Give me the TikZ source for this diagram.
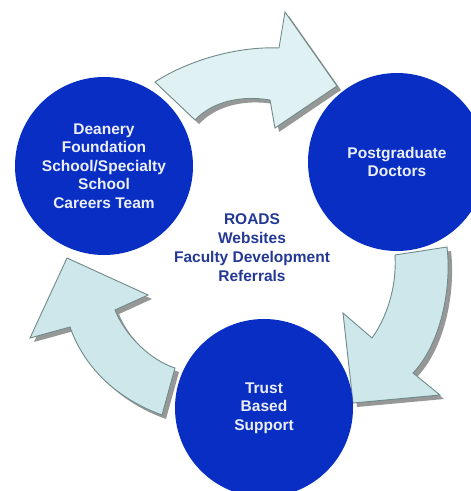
\documentclass[tikz,border=0pt]{standalone}
\usepackage{fontspec}
\setmainfont{Liberation Sans}
\begin{document}
\definecolor{discblue}{RGB}{8,46,196}
\definecolor{disctext}{RGB}{236,239,249}
\definecolor{hubtext}{RGB}{36,56,150}
\definecolor{arrowlight}{RGB}{224,241,243}
\definecolor{arrowfill}{RGB}{206,231,235}
\definecolor{arrowline}{RGB}{112,138,138}
\definecolor{arrowshadow}{RGB}{150,152,152}
\begin{tikzpicture}[x=1pt,y=-1pt,
  disc/.style={circle,fill=discblue,minimum size=178pt,inner sep=0pt,
    text=disctext,align=center,font=\bfseries\fontsize{15.5}{18.5}\selectfont},
  hub/.style={text=hubtext,align=center,font=\bfseries\fontsize{15.5}{19}\selectfont},
  blockarrow/.style={draw=arrowline,line width=0.9pt,line join=miter},
  arrowshade/.style={fill=arrowshadow,shift={(4,4)}}]
\useasboundingbox[fill=white] (0,0) rectangle (471,491);

% curved block arrows: shadow first, then the arrow itself
\def\toparrow{(155,82) .. controls (185,62) and (235,46) .. (279,48) -- (285,12) -- (337,86)
  -- (275,128) -- (270,100) .. controls (240,95) and (212,102) .. (195,120) -- cycle}
\def\rightarrow{(395,255) -- (447,247) .. controls (452,290) and (440,345) .. (413,373)
  -- (440,395) -- (353,403) -- (343,313) -- (372,338) .. controls (385,320) and (397,290) .. (395,255) -- cycle}
\def\leftarrowshape{(67,258) -- (148,295) -- (115,310) .. controls (125,335) and (150,360) .. (175,368)
  -- (162,415) .. controls (120,400) and (85,370) .. (70,327) -- (30,338) -- cycle}

\fill[arrowshade] \toparrow;
\fill[arrowshade] \rightarrow;
\fill[arrowshade] \leftarrowshape;
\filldraw[blockarrow,fill=arrowlight] \toparrow;
\filldraw[blockarrow,fill=arrowfill] \rightarrow;
\filldraw[blockarrow,fill=arrowfill] \leftarrowshape;

% the three stages
\node[disc] (deanery) at (104,166) {Deanery\\Foundation\\School/Specialty\\School\\Careers Team};
\node[disc] (doctors) at (397,162) {Postgraduate\\Doctors};
\node[disc] (trust) at (264,408) {Trust\\Based\\Support};

% shared resources in the middle
\node[hub] (resources) at (252,248) {ROADS\\Websites\\Faculty Development\\Referrals};
\end{tikzpicture}
\end{document}
